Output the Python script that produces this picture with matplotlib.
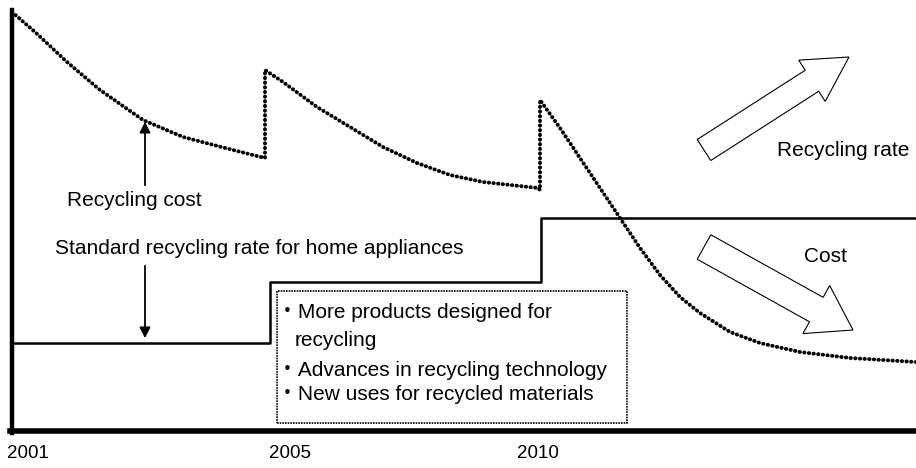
import numpy as np
import matplotlib.pyplot as plt
from matplotlib.patches import FancyArrow, Rectangle

plt.rcParams['font.family'] = ['Liberation Sans', 'Noto Sans CJK JP', 'DejaVu Sans']

# Recycling cost curve (dotted), x in chart units, y as height above the figure bottom
cost_x = [12, 35, 67, 100, 143, 183, 233, 265,
          265, 283, 317, 350, 383, 417, 450, 483, 538, 540,
          540, 560, 580, 600, 620, 640, 660, 680, 700, 730, 760, 800, 850, 916]
cost_y = [456, 436, 406, 378, 348, 331, 318, 310,
          398, 386, 361, 341, 321, 305, 293, 286, 280, 278,
          368, 340, 310, 280, 250, 220, 193, 171, 155, 136, 125, 116, 110, 106]

# Standard recycling rate (step line)
rate_x = [12, 270, 541, 916]
rate_y = [125, 186, 250, 250]

years = ['2001', '2005', '2010']
year_pos = [28, 290, 538]

box_lines = ['・More products designed for', 'recycling',
             '・Advances in recycling technology', '・New uses for recycled materials']
box_x = [277, 295, 277, 277]
box_y = [155, 128, 97, 74]

fig = plt.figure(figsize=(9.16, 4.68), dpi=100)
ax = fig.add_axes([0, 0, 1, 1])
ax.set_xlim(0, 916)
ax.set_ylim(0, 468)

# axes frame
for s in ['top', 'right']:
    ax.spines[s].set_visible(False)
ax.spines['left'].set_position(('data', 12))
ax.spines['left'].set_bounds(35, 458)
ax.spines['left'].set_linewidth(3.2)
ax.spines['bottom'].set_position(('data', 37))
ax.spines['bottom'].set_bounds(10, 916)
ax.spines['bottom'].set_linewidth(4)
ax.set_yticks([])
ax.set_xticks(year_pos)
ax.set_xticklabels(years, fontsize=13.5)
ax.tick_params(axis='x', length=0, pad=10)

# cost curve
ax.plot(cost_x, cost_y, color='black', lw=2.8, linestyle=(0, (0.1, 1.1)),
        dash_capstyle='round')

# recycling rate
ax.step(rate_x, rate_y, where='post', color='black', lw=1.8)

# arrows for recycling cost
ax.annotate('', xy=(145, 349), xytext=(145, 280),
            arrowprops=dict(arrowstyle='-|>', color='black', lw=1.3, mutation_scale=16))
ax.annotate('', xy=(145, 127), xytext=(145, 205),
            arrowprops=dict(arrowstyle='-|>', color='black', lw=1.3, mutation_scale=16))
ax.text(134, 267, 'Recycling cost', ha='center', va='center', fontsize=15)
ax.text(259, 220, 'Standard recycling rate for home appliances', ha='center',
        va='center', fontsize=15)

# box with factors
ax.add_patch(Rectangle((277, 45), 350, 132, fill=False, lw=1.2, linestyle=(0, (1, 0.6)),
                       edgecolor='black'))
for line, x, y in zip(box_lines, box_x, box_y):
    ax.text(x, y, line, ha='left', va='center', fontsize=15)

# hollow trend arrows
ax.add_patch(FancyArrow(704, 318, 145, 93, width=25, head_width=49, head_length=44,
                        length_includes_head=True, facecolor='white', edgecolor='black', lw=0.8))
ax.add_patch(FancyArrow(704, 221, 149, -83, width=28, head_width=55, head_length=42,
                        length_includes_head=True, facecolor='white', edgecolor='black', lw=0.8))
ax.text(843, 318, 'Recycling rate', ha='center', va='center', fontsize=15)
ax.text(825, 211, 'Cost', ha='center', va='center', fontsize=15)

fig.savefig('out.png', dpi=100)
